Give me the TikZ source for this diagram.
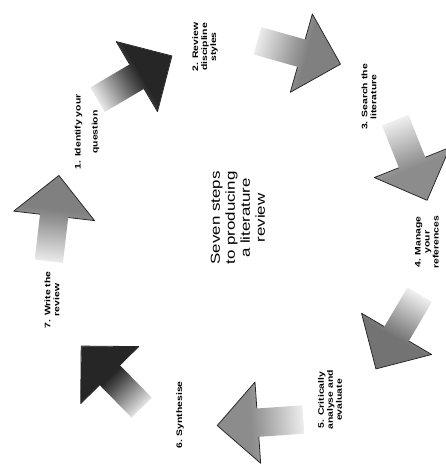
\documentclass[tikz,border=0pt]{standalone}
\usepackage{fontspec}
\setmainfont{Liberation Sans}
\usepackage{tikz}
\usetikzlibrary{shapes.arrows}

\pgfdeclarehorizontalshading[stepcol]{stepfade}{100bp}{color(0bp)=(white); color(20bp)=(white); color(48bp)=(stepcol!80); color(56bp)=(stepcol); color(100bp)=(stepcol)}

\begin{document}
\begin{tikzpicture}[
    x=1pt, y=-1pt,
    stepar/.style n args={2}{single arrow, inner xsep=0pt, inner ysep=14pt, single arrow head extend=26pt,
        minimum height=86pt, rotate=#2, shading=stepfade, shading angle=#2,
        /utils/exec={\colorlet{stepcol}{#1}}},
    headline/.style={draw=black!85, line width=0.8pt, line join=round},
    steplabel/.style={rotate=90, xscale=1.3, align=center, font=\fontsize{8}{9}\selectfont\bfseries},
    hub/.style={rotate=90, xscale=1.3, align=center, font=\fontsize{13}{15}\selectfont},
]
    \useasboundingbox (0,0) rectangle (446,464);

    % the seven arrows, clockwise
    \node[stepar={black!85}{30.5}]  (a1) at (128.5,81.5) {};
    \node[stepar={black!50}{-15.7}] (a2) at (292,50.5) {};
    \node[stepar={black!45}{-68.3}] (a3) at (408.5,153.5) {};
    \node[stepar={black!55}{239.5}] (a4) at (401.5,325.5) {};
    \node[stepar={black!45}{184}]   (a5) at (267.5,422) {};
    \node[stepar={black!85}{134.5}] (a6) at (116.5,382) {};
    \node[stepar={black!50}{83.3}]  (a7) at (53,225.5) {};

    \foreach \a in {a1,a2,a3,a4,a5,a6,a7}
        \draw[headline] (\a.before head) -- (\a.before tip) -- (\a.tip) -- (\a.after tip) -- (\a.after head);

    % labels
    \node[steplabel] (l1) at (87,132) {1. Identify your\\[8pt]question};
    \node[steplabel] (l2) at (205,47) {2. Review\\discipline\\styles};
    \node[steplabel] (l3) at (369,97) {3. Search the\\literature};
    \node[steplabel] (l4) at (427,242) {4. Manage\\your\\references};
    \node[steplabel] (l5) at (330,400) {5. Critically\\analyse and\\evaluate};
    \node[steplabel] (l6) at (180,415) {6. Synthesise};
    \node[steplabel] (l7) at (52,300) {7. Write the\\review};

    \node[hub] (hub) at (238,218) {Seven steps\\to producing\\a literature\\review};
\end{tikzpicture}
\end{document}
